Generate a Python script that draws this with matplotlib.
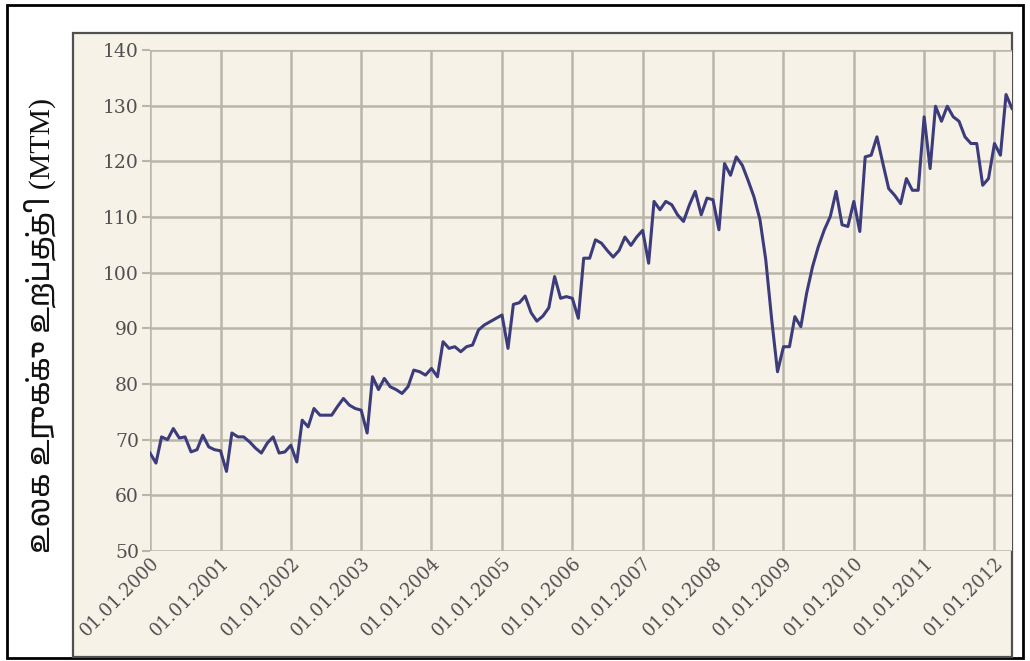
import matplotlib
matplotlib.use("Agg")
import matplotlib.pyplot as plt
import matplotlib.dates as mdates
import matplotlib.patches as mpatches
from matplotlib import font_manager
import pandas as pd

# ---- data (monthly world steel production, MTM) ----
start_month = "2000-01-01"
values_2000 = [67.6, 65.8, 70.5, 70.0, 72.0, 70.3, 70.5, 67.8, 68.2, 70.8, 68.7, 68.2]
values_2001 = [68.0, 64.3, 71.2, 70.5, 70.5, 69.6, 68.5, 67.6, 69.4, 70.5, 67.6, 67.8]
values_2002 = [69.0, 66.0, 73.5, 72.3, 75.6, 74.4, 74.4, 74.4, 76.0, 77.4, 76.2, 75.6]
values_2003 = [75.3, 71.2, 81.3, 79.0, 81.0, 79.5, 79.0, 78.3, 79.5, 82.5, 82.2, 81.6]
values_2004 = [82.8, 81.3, 87.6, 86.4, 86.7, 85.8, 86.7, 87.0, 89.7, 90.6, 91.2, 91.8]
values_2005 = [92.4, 86.4, 94.3, 94.6, 95.8, 92.8, 91.3, 92.2, 93.7, 99.3, 95.4, 95.7]
values_2006 = [95.4, 91.8, 102.6, 102.6, 105.9, 105.3, 104.0, 102.8, 104.0, 106.4, 104.9, 106.4]
values_2007 = [107.6, 101.7, 112.8, 111.3, 112.8, 112.2, 110.4, 109.2, 112.2, 114.6, 110.4, 113.4]
values_2008 = [113.1, 107.7, 119.6, 117.5, 120.8, 119.3, 116.6, 113.6, 109.5, 102.3, 91.5, 82.2]
values_2009 = [86.7, 86.7, 92.1, 90.3, 96.3, 101.1, 104.7, 107.7, 110.1, 114.6, 108.6, 108.3]
values_2010 = [112.8, 107.4, 120.8, 121.1, 124.4, 119.6, 115.1, 113.9, 112.4, 116.9, 114.8, 114.8]
values_2011 = [128.0, 118.7, 129.9, 127.2, 129.9, 128.0, 127.2, 124.4, 123.2, 123.2, 115.7, 116.9]
values_2012 = [123.2, 121.1, 132.0, 129.5]

tick_years = list(range(2000, 2013))
y_ticks = [50, 60, 70, 80, 90, 100, 110, 120, 130, 140]
y_label = "உலக உருக்கு உற்பத்தி (MTM)"

values = (values_2000 + values_2001 + values_2002 + values_2003 + values_2004 +
          values_2005 + values_2006 + values_2007 + values_2008 + values_2009 +
          values_2010 + values_2011 + values_2012)
dates = pd.date_range(start_month, periods=len(values), freq="MS")

# ---- fonts ----
tamil_fams = []
for f in font_manager.fontManager.ttflist:
    if "tamil" in f.name.lower() or "lohit" in f.name.lower() or "latha" in f.name.lower():
        if f.name not in tamil_fams:
            tamil_fams.append(f.name)
label_family = ["Liberation Serif"] + tamil_fams + ["DejaVu Serif"]

W, H = 1030, 661
fig = plt.figure(figsize=(W / 100, H / 100), dpi=100)
fig.patch.set_facecolor("white")

def box(x0, y0, x1, y1):
    return (x0 / W, 1 - y1 / H, (x1 - x0) / W, (y1 - y0) / H)

cream = "#F6F2E7"
# outer black frame
bx = box(7, 5, 1023, 658)
fig.patches.append(mpatches.Rectangle(bx[:2], bx[2], bx[3], transform=fig.transFigure,
                                      facecolor="white", edgecolor="black", lw=2.0, zorder=-3))
# inner cream panel
px = box(73, 33, 1012, 657)
fig.patches.append(mpatches.Rectangle(px[:2], px[2], px[3], transform=fig.transFigure,
                                      facecolor=cream, edgecolor="#505050", lw=1.6, zorder=-2))

ax = fig.add_axes(box(150, 50, 1012, 551))
ax.set_zorder(2)
ax.set_facecolor(cream)
ax.plot(dates, values, color="#3C3C7C", lw=2.2, zorder=3, solid_joinstyle="round")

ax.set_ylim(50, 140)
ax.set_yticks(y_ticks)
ax.set_xlim(pd.Timestamp("2000-01-01"), pd.Timestamp("2012-04-01"))
ax.set_xticks([pd.Timestamp(f"{y}-01-01") for y in tick_years])
ax.xaxis.set_major_formatter(mdates.DateFormatter("%d.%m.%Y"))

for s in ax.spines.values():
    s.set_visible(False)
ax.grid(True, color="#BAB5A9", lw=1.8, zorder=1)
ax.set_axisbelow(True)
ax.tick_params(axis="y", length=6, width=1.5, color="#BAB5A9", labelcolor="#505050",
               labelsize=13.5, pad=2)
ax.tick_params(axis="x", length=0, labelcolor="#505050", labelsize=13, pad=2)
for lab in ax.get_yticklabels():
    lab.set_fontfamily("DejaVu Serif")
for lab in ax.get_xticklabels():
    lab.set_fontfamily("DejaVu Serif")
    lab.set_rotation(45)
    lab.set_ha("right")
    lab.set_va("top")
    lab.set_rotation_mode("anchor")

fig.text(40 / W, 1 - 325 / H, y_label, rotation=90, ha="center", va="center",
         fontsize=21.5, color="#111111", family=label_family, zorder=3)

fig.savefig("out.png", dpi=100, facecolor="white")
